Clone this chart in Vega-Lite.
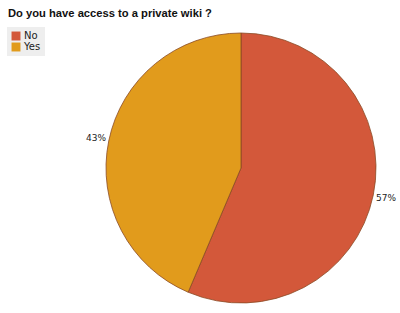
{
  "$schema": "https://vega.github.io/schema/vega-lite/v6.json",
  "autosize": "none",
  "width": 482,
  "height": 296,
  "padding": {"left": 0, "top": 20, "right": 0, "bottom": 0},
  "background": "white",
  "title": {
    "text": "Do you have access to a private wiki ?",
    "anchor": "start",
    "frame": "bounds",
    "offset": 1,
    "dx": 8,
    "font": "Liberation Sans",
    "fontSize": 11.2,
    "fontWeight": "bold",
    "color": "#111"
  },
  "data": {
    "values": [
      {"answer": "No", "percent": 56.4, "order": 1, "label": "57%"},
      {"answer": "Yes", "percent": 43.6, "order": 2, "label": "43%"}
    ]
  },
  "encoding": {
    "theta": {"field": "percent", "type": "quantitative", "stack": true},
    "order": {"field": "order", "type": "quantitative"}
  },
  "layer": [
    {
      "mark": {"type": "arc", "outerRadius": 135, "stroke": "#8a4a25", "strokeWidth": 0.8},
      "encoding": {
        "color": {
          "field": "answer",
          "type": "nominal",
          "scale": {"domain": ["No", "Yes"], "range": ["#D3583A", "#E19B1C"]},
          "legend": {
            "orient": "none",
            "legendX": 7,
            "legendY": 7,
            "title": null,
            "symbolType": "square",
            "symbolSize": 80,
            "symbolStrokeWidth": 0,
            "labelFont": "DejaVu Sans",
            "labelFontSize": 10,
            "labelColor": "#222",
            "labelOffset": 3,
            "rowPadding": 1,
            "fillColor": "#eeeeee",
            "padding": 4
          }
        }
      }
    },
    {
      "mark": {"type": "text", "radius": 148, "font": "DejaVu Sans", "fontSize": 9, "color": "#222"},
      "encoding": {
        "text": {"field": "label", "type": "nominal"}
      }
    }
  ]
}
